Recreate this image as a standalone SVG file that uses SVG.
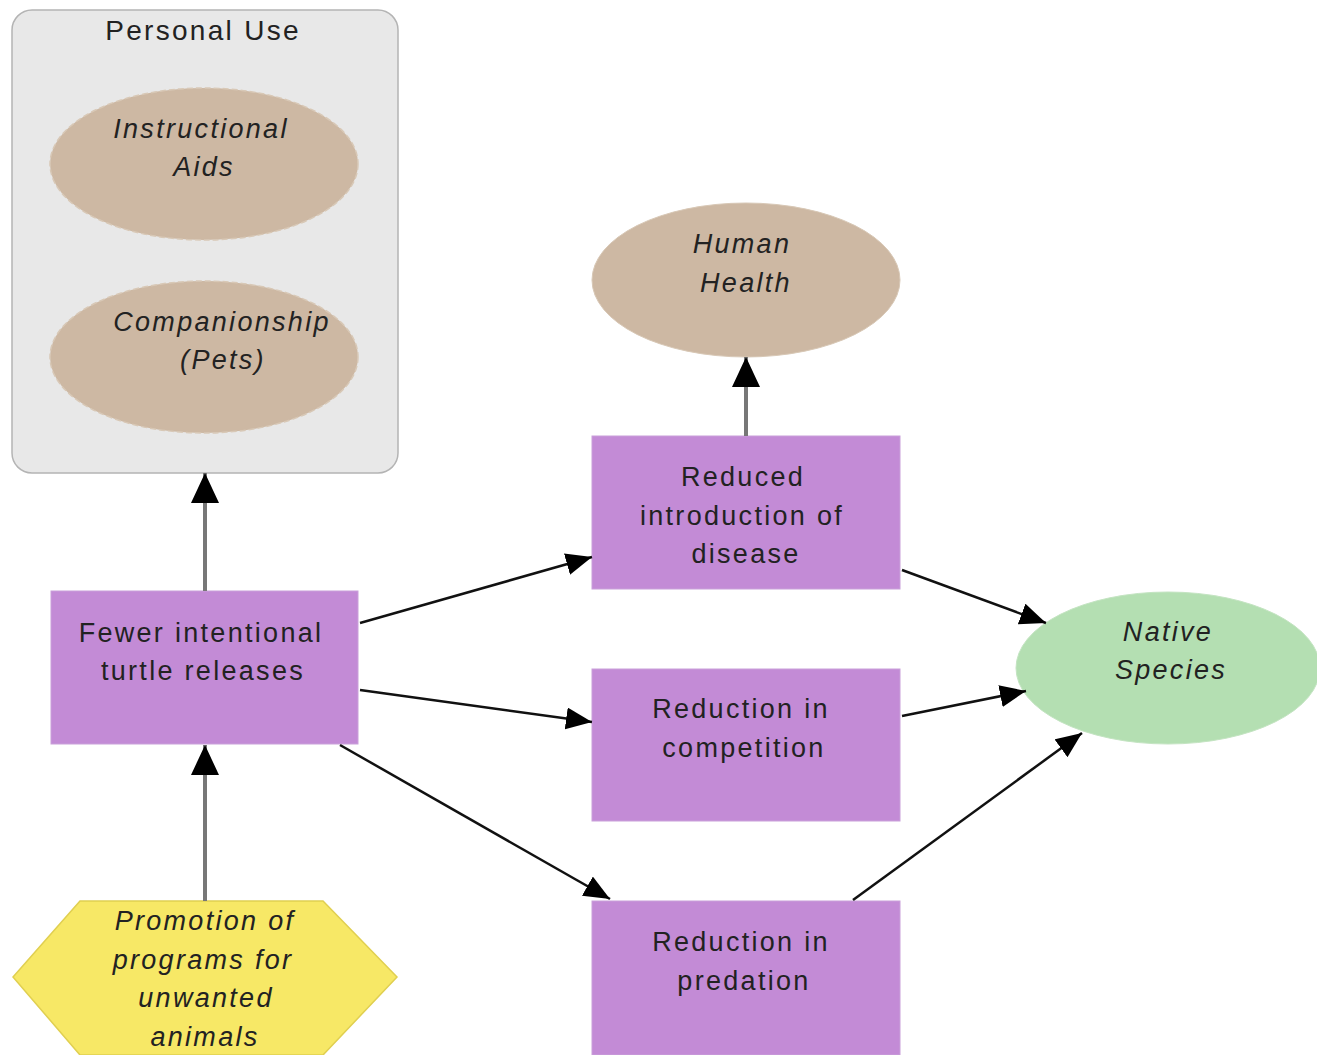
<svg xmlns="http://www.w3.org/2000/svg" width="1317" height="1055" viewBox="0 0 1317 1055">
<style>
.lbl{font-family:"Liberation Sans",Arial,sans-serif;font-size:27px;fill:#222;text-anchor:middle;letter-spacing:2.3px}
.it{font-style:italic}
.box{fill:#c38bd6;stroke:#c9a0da;stroke-width:1}
.oval{fill:#cdb8a3;stroke:#d8c8b6;stroke-width:1.5;stroke-dasharray:6 3}
.thin{stroke:#111;stroke-width:2.5;fill:none}
.thick{stroke:#777;stroke-width:4;fill:none}
</style>
<defs>
<marker id="ah" markerUnits="userSpaceOnUse" markerWidth="28" markerHeight="24" refX="26" refY="11" orient="auto">
<path d="M0,0 L26,11 L0,22 z" fill="#000"/>
</marker>
<marker id="ahv" markerUnits="userSpaceOnUse" markerWidth="32" markerHeight="30" refX="30" refY="14" orient="auto">
<path d="M0,0 L30,14 L0,28 z" fill="#000"/>
</marker>
</defs>
<rect width="1317" height="1055" fill="#fff"/>
<g id="personal-use">
<rect x="12" y="10" width="386" height="463" rx="20" ry="20" fill="#e8e8e8" stroke="#b4b4b4" stroke-width="1.5"/>
<text class="lbl" x="203" y="40" style="font-size:28px">Personal Use</text>
</g>
<g id="instructional-aids">
<ellipse class="oval" cx="204" cy="164" rx="154" ry="76"/>
<text class="lbl it" x="201" y="138">Instructional</text>
<text class="lbl it" x="204" y="176">Aids</text>
</g>
<g id="companionship">
<ellipse class="oval" cx="204" cy="357" rx="154" ry="76"/>
<text class="lbl it" x="222" y="331">Companionship</text>
<text class="lbl it" x="223" y="369">(Pets)</text>
</g>
<g id="human-health">
<ellipse cx="746" cy="280" rx="154" ry="77" fill="#cdb8a3" stroke="#d8c8b6" stroke-width="1"/>
<text class="lbl it" x="742" y="253">Human</text>
<text class="lbl it" x="746" y="292">Health</text>
</g>
<g id="fewer-releases">
<rect class="box" x="51" y="591" width="307" height="153"/>
<text class="lbl" x="201" y="642">Fewer intentional</text>
<text class="lbl" x="203" y="680">turtle releases</text>
</g>
<g id="reduced-disease">
<rect class="box" x="592" y="436" width="308" height="153"/>
<text class="lbl" x="743" y="486">Reduced</text>
<text class="lbl" x="742" y="525">introduction of</text>
<text class="lbl" x="746" y="563">disease</text>
</g>
<g id="reduction-competition">
<rect class="box" x="592" y="669" width="308" height="152"/>
<text class="lbl" x="741" y="718">Reduction in</text>
<text class="lbl" x="744" y="757">competition</text>
</g>
<g id="reduction-predation">
<rect class="box" x="592" y="901" width="308" height="154"/>
<text class="lbl" x="741" y="951">Reduction in</text>
<text class="lbl" x="744" y="990">predation</text>
</g>
<g id="native-species">
<ellipse cx="1168" cy="668" rx="152" ry="76" fill="#b4dfb2" stroke="#c4e4c2" stroke-width="1"/>
<text class="lbl it" x="1168" y="641">Native</text>
<text class="lbl it" x="1171" y="679">Species</text>
</g>
<g id="promotion-programs">
<polygon points="80,901 323,901 397,977 323,1055 80,1055 13,977" fill="#f7e866" stroke="#e0cf50" stroke-width="1.5"/>
<text class="lbl it" x="205" y="930">Promotion of</text>
<text class="lbl it" x="203" y="969">programs for</text>
<text class="lbl it" x="206" y="1007">unwanted</text>
<text class="lbl it" x="205" y="1046">animals</text>
</g>
<g id="connectors">
<line class="thick" x1="205" y1="591" x2="205" y2="473" marker-end="url(#ahv)"/>
<line class="thick" x1="205" y1="901" x2="205" y2="745" marker-end="url(#ahv)"/>
<line class="thick" x1="746" y1="436" x2="746" y2="357" marker-end="url(#ahv)"/>
<line class="thin" x1="360" y1="623" x2="592" y2="557" marker-end="url(#ah)"/>
<line class="thin" x1="360" y1="690" x2="592" y2="722" marker-end="url(#ah)"/>
<line class="thin" x1="340" y1="745" x2="610" y2="899" marker-end="url(#ah)"/>
<line class="thin" x1="902" y1="570" x2="1046" y2="623" marker-end="url(#ah)"/>
<line class="thin" x1="902" y1="716" x2="1026" y2="691" marker-end="url(#ah)"/>
<line class="thin" x1="853" y1="900" x2="1082" y2="733" marker-end="url(#ah)"/>
</g>
</svg>
